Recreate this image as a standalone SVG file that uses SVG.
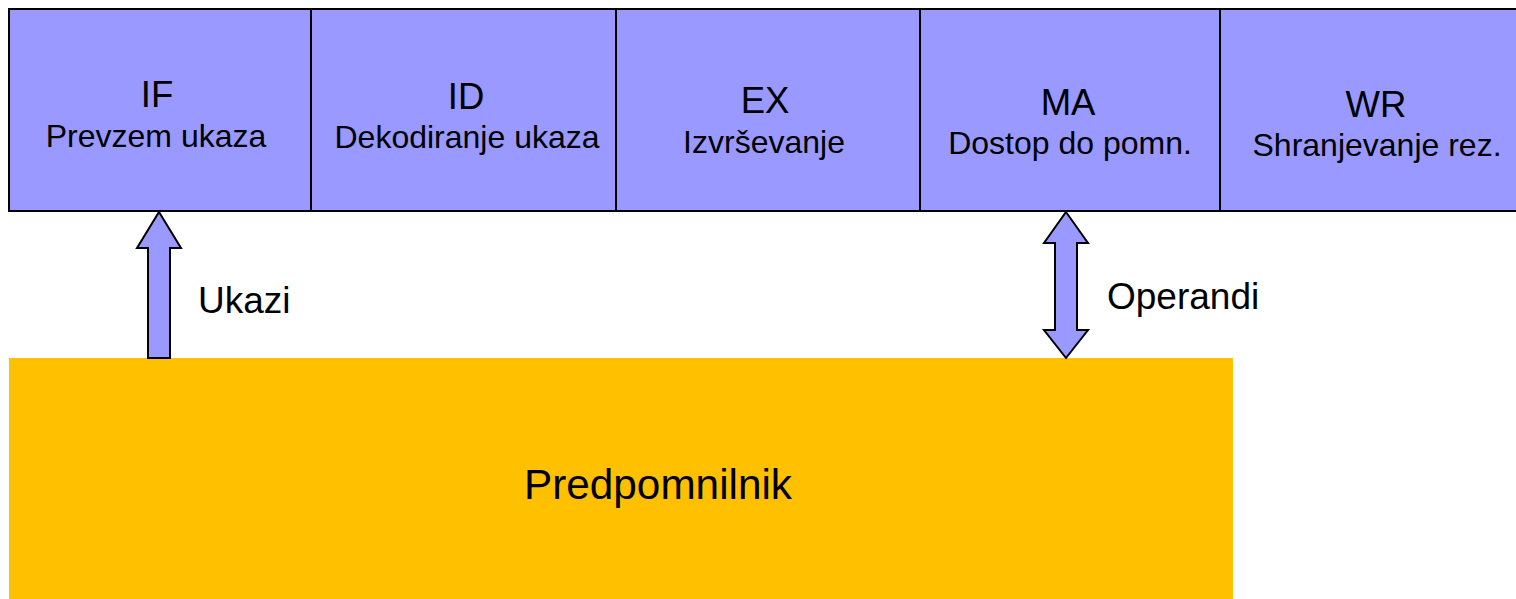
<svg xmlns="http://www.w3.org/2000/svg" width="1516" height="599" viewBox="0 0 1516 599">
<style>
.stage{fill:#9999FF;stroke:#000;stroke-width:2}
.t{font-family:"Liberation Sans",Arial,sans-serif;fill:#000;text-anchor:middle}
.h{font-size:36.5px}
.s{font-size:32px}
.lbl{font-family:"Liberation Sans",Arial,sans-serif;fill:#000;font-size:37px}
.arr{fill:#9999FF;stroke:#000;stroke-width:2;stroke-linejoin:miter}
</style>
<rect width="1516" height="599" fill="#fff"/>
<g id="cache">
<rect x="9" y="358" width="1224" height="250" fill="#FFC000"/>
<text class="t" x="658" y="499" style="font-size:42.3px">Predpomnilnik</text>
</g>
<g id="IF">
<rect class="stage" x="9" y="9" width="302" height="202"/>
<text class="t h" x="157" y="107">IF</text>
<text class="t s" x="156" y="147">Prevzem ukaza</text>
</g>
<g id="ID">
<rect class="stage" x="311" y="9" width="305" height="202"/>
<text class="t h" x="466" y="109">ID</text>
<text class="t s" x="467" y="148">Dekodiranje ukaza</text>
</g>
<g id="EX">
<rect class="stage" x="616" y="9" width="304" height="202"/>
<text class="t h" x="765" y="113">EX</text>
<text class="t s" x="764" y="153">Izvrševanje</text>
</g>
<g id="MA">
<rect class="stage" x="920" y="9" width="300" height="202"/>
<text class="t h" x="1068" y="115">MA</text>
<text class="t s" x="1070" y="154">Dostop do pomn.</text>
</g>
<g id="WR">
<rect class="stage" x="1220" y="9" width="320" height="202"/>
<text class="t h" x="1376" y="117">WR</text>
<text class="t s" x="1377" y="156">Shranjevanje rez.</text>
</g>
<g id="connectors">
<polygon class="arr" points="159,212 181,248 170,248 170,358 148,358 148,248 137,248"/>
<polygon class="arr" points="1066,212 1088,243 1077,243 1077,330 1088,330 1066,358 1044,330 1055,330 1055,243 1044,243"/>
<text class="lbl" x="198" y="313">Ukazi</text>
<text class="lbl" x="1107" y="309">Operandi</text>
</g>
</svg>
